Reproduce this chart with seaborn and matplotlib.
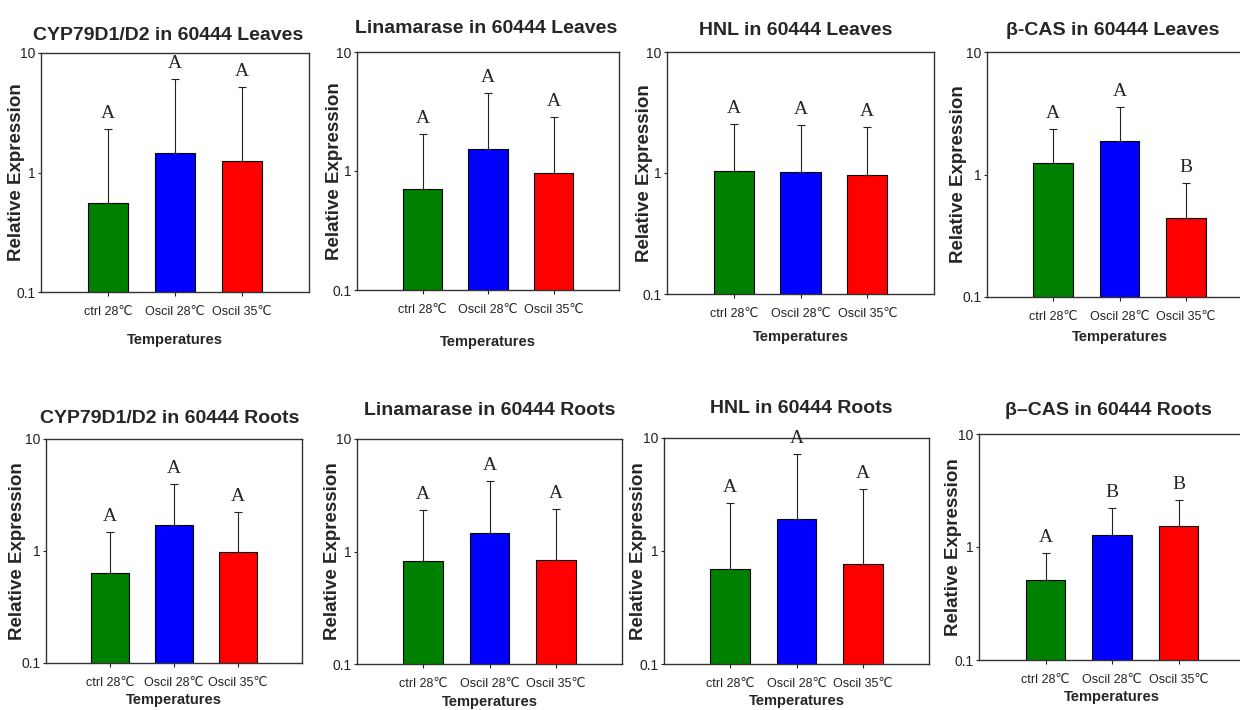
import numpy as np
import pandas as pd
import matplotlib
matplotlib.use('Agg')
import matplotlib.pyplot as plt
from matplotlib.ticker import NullLocator
import seaborn as sns

# categories and colours
treatments = ['ctrl 28\u2103', 'Oscil 28\u2103', 'Oscil 35\u2103']
bar_colors = ['#008000', '#0000ff', '#ff0000']

genes = ['CYP79D1/D2', 'Linamarase', 'HNL', '\u03b2-CAS']

# relative expression (bar heights)
leaves_mean = [[0.56, 1.47, 1.25],
               [0.70, 1.54, 0.96],
               [1.03, 1.02, 0.97],
               [1.23, 1.87, 0.44]]
# upper error (bar top to cap)
leaves_err = [[1.75, 4.58, 3.93],
              [1.36, 3.02, 1.88],
              [1.53, 1.49, 1.42],
              [1.12, 1.68, 0.41]]
leaves_letters = [['A', 'A', 'A'],
                  ['A', 'A', 'A'],
                  ['A', 'A', 'A'],
                  ['A', 'A', 'B']]

roots_mean = [[0.64, 1.70, 0.97],
              [0.83, 1.47, 0.84],
              [0.70, 1.91, 0.76],
              [0.51, 1.28, 1.52]]
roots_err = [[0.84, 2.26, 1.28],
             [1.51, 2.75, 1.54],
             [1.94, 5.31, 2.76],
             [0.375, 0.93, 1.10]]
roots_letters = [['A', 'A', 'A'],
                 ['A', 'A', 'A'],
                 ['A', 'A', 'A'],
                 ['A', 'B', 'B']]

# layout in pixels: axes box (left, top, right, bottom)
panel_px = [(41, 53, 309, 292), (357, 52, 619, 290), (667, 52, 934, 294), (987, 52, 1252, 297),
            (46, 439, 302, 663), (357, 439, 622, 664), (664, 438, 929, 664), (979, 434, 1245, 660)]
title_pad_px = [13, 19, 17, 17, 16, 24, 25, 19]
title_dx_px = [-7, -2, -5, -7, -4, 0, 5, -4]
xlabel_gap_px = [41, 45, 36, 33, 30, 31, 30, 30]
ylabel_gap_px = [16, 14, 14, 20, 20, 16, 17, 17]

sns.set_theme(style='white')
plt.rcParams['font.family'] = ['Liberation Sans', 'DejaVu Sans']

W, H = 1240, 710
fig = plt.figure(figsize=(W / 100, H / 100), dpi=100)

titles = [f'{g} in 60444 Leaves' for g in genes] + \
         [f'{g} in 60444 Roots' for g in genes[:3]] + ['\u03b2\u2013CAS in 60444 Roots']
means = leaves_mean + roots_mean
errs = leaves_err + roots_err
letters = leaves_letters + roots_letters

for i in range(8):
    l, t, r, b = panel_px[i]
    ax = fig.add_axes([l / W, 1 - b / H, (r - l) / W, (b - t) / H])
    df = pd.DataFrame({'Treatment': treatments, 'Expression': means[i]})
    sns.barplot(data=df, x='Treatment', y='Expression', hue='Treatment',
                palette=bar_colors, legend=False, width=0.6,
                edgecolor='black', linewidth=0.8, saturation=1, ax=ax)
    ax.set_yscale('log', nonpositive='clip')

    pos = ax.get_xticks()
    mean = np.array(means[i])
    err = np.array(errs[i])
    ax.errorbar(pos, mean, yerr=[np.zeros_like(err), err], fmt='none',
                ecolor='#222222', elinewidth=0.8, capsize=3, capthick=0.8)
    for p, m, e, let in zip(pos, mean, err, letters[i]):
        ax.annotate(let, (p, m + e), xytext=(0, 5), textcoords='offset points',
                    ha='center', va='bottom', fontsize=14,
                    family=['Liberation Serif', 'DejaVu Serif'])

    ax.set_xlim(-1, 3)
    ax.set_ylim(0.1, 10)
    ax.set_yticks([0.1, 1, 10], labels=['0.1', '1', '10'])
    ax.yaxis.set_minor_locator(NullLocator())
    ax.tick_params(axis='x', bottom=True, length=3, width=0.8, pad=7,
                   labelsize=9, colors='#222222')
    ax.tick_params(axis='y', left=True, length=2.5, width=0.8, pad=1.5,
                   labelsize=10, colors='#222222')
    for sp in ax.spines.values():
        sp.set_color('#333333')
        sp.set_linewidth(1.0)

    wpx, hpx = r - l, b - t
    ax.set_title(titles[i], fontsize=14, fontweight='bold',
                 pad=title_pad_px[i] * 0.72, x=0.5 + title_dx_px[i] / wpx)
    ax.set_xlabel('Temperatures', fontsize=10.5, fontweight='bold')
    ax.set_ylabel('Relative Expression', fontsize=13.5, fontweight='bold')
    ax.xaxis.set_label_coords(0.5, -xlabel_gap_px[i] / hpx)
    ax.yaxis.set_label_coords(-ylabel_gap_px[i] / wpx, 0.5)

fig.savefig('out.png', dpi=100)
